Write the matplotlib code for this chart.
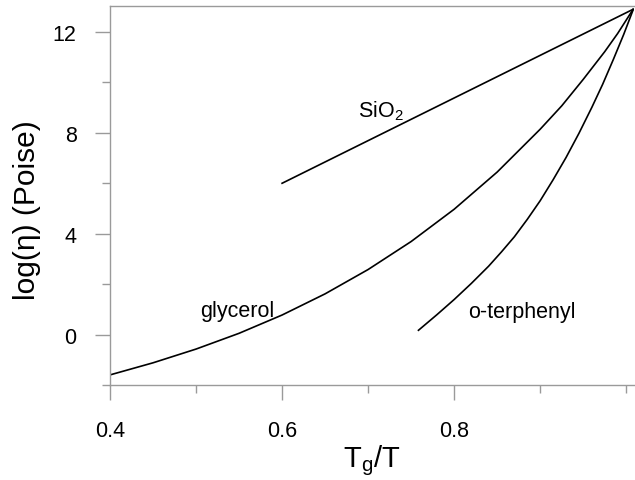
import matplotlib
matplotlib.use("Agg")
import matplotlib.pyplot as plt
from matplotlib.ticker import MultipleLocator

plt.rcParams['font.family'] = ['Liberation Sans', 'DejaVu Sans']

# Viscosity (log10 of poise) against reduced inverse temperature Tg/T
sio2_x = [0.60, 1.008]
sio2_y = [6.0, 12.9]

glycerol_x = [0.400, 0.450, 0.500, 0.550, 0.600, 0.650, 0.700, 0.750,
              0.800, 0.850, 0.900, 0.925, 0.950, 0.975, 0.990, 1.008]
glycerol_y = [-1.60, -1.12, -0.575, 0.05, 0.775, 1.615, 2.58, 3.69,
              4.97, 6.445, 8.145, 9.07, 10.12, 11.22, 11.94, 12.90]

oterphenyl_x = [0.7585, 0.780, 0.800, 0.820, 0.840, 0.855, 0.870, 0.885,
                0.900, 0.915, 0.930, 0.945, 0.960, 0.9725, 0.985, 0.997,
                1.008]
oterphenyl_y = [0.17, 0.79, 1.39, 2.03, 2.71, 3.28, 3.88, 4.57,
                5.31, 6.14, 7.02, 7.98, 9.01, 9.92, 10.91, 11.90,
                12.88]

x_major = [0.4, 0.6, 0.8]
y_major = [0, 4, 8, 12]

fig = plt.figure(figsize=(6.35, 4.81), dpi=100)
ax = fig.add_axes([110 / 635, 1 - 386 / 481, 524 / 635, 379 / 481])

for xs, ys in [(sio2_x, sio2_y), (glycerol_x, glycerol_y),
               (oterphenyl_x, oterphenyl_y)]:
    ax.plot(xs, ys, color='black', lw=1.2, solid_joinstyle='round')

ax.set_xlim(0.4, 1.009)
ax.set_ylim(-2, 13.03)

ax.set_xticks(x_major)
ax.set_xticklabels([f"{v:.1f}" for v in x_major])
ax.xaxis.set_minor_locator(MultipleLocator(0.1))
ax.set_yticks(y_major)
ax.set_yticklabels([str(v) for v in y_major])
ax.yaxis.set_minor_locator(MultipleLocator(2))

grey = '#9a9a9a'
for side in ['left', 'bottom', 'top']:
    ax.spines[side].set_color(grey)
    ax.spines[side].set_linewidth(1.0)
ax.spines['right'].set_visible(False)

ax.tick_params(which='major', direction='out', length=11, width=1.0,
               color=grey, labelsize=15.5, labelcolor='black')
ax.tick_params(which='minor', direction='out', length=5.5, width=1.0,
               color=grey)
ax.tick_params(axis='x', which='major', pad=14)
ax.tick_params(axis='y', which='major', pad=13)
ax.tick_params(top=False, which='both')

ax.set_xlabel(r'T$_\mathregular{g}$/T', fontsize=21, labelpad=1)
ax.set_ylabel('log(η) (Poise)', fontsize=21.5)
ax.yaxis.set_label_coords(-0.132, 0.464)

ax.text(0.688, 8.67, r'SiO$_\mathregular{2}$', fontsize=15.5, ha='left',
        va='baseline')
ax.text(0.5047, 0.75, 'glycerol', fontsize=15.5, ha='left', va='baseline')
ax.text(0.8163, 0.71, 'o-terphenyl', fontsize=15.5, ha='left',
        va='baseline')

fig.savefig('out.png', dpi=100)
